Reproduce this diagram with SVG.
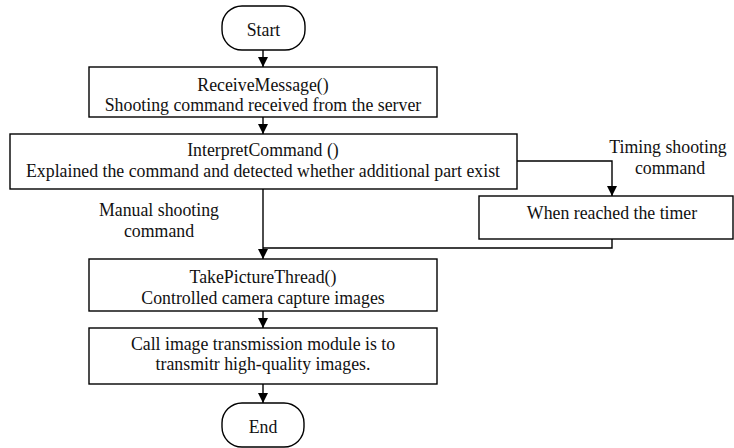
<svg xmlns="http://www.w3.org/2000/svg" width="734" height="448" viewBox="0 0 734 448">
<defs>
<marker id="ah" viewBox="0 0 10 10" refX="10" refY="5" markerWidth="10" markerHeight="10" markerUnits="userSpaceOnUse" orient="auto">
<path d="M0,0 L10,5 L0,10 Z" fill="#000"/>
</marker>
<style>
.box{fill:#fff;stroke:#000;stroke-width:1.4}
.ln{fill:none;stroke:#000;stroke-width:1.4}
</style>
</defs>
<rect width="734" height="448" fill="#fff"/>
<g id="connectors">
<line class="ln" x1="263" y1="50" x2="263" y2="67" marker-end="url(#ah)"/>
<line class="ln" x1="263" y1="117" x2="263" y2="134" marker-end="url(#ah)"/>
<polyline class="ln" points="517,161 612,161 612,196" marker-end="url(#ah)"/>
<line class="ln" x1="263" y1="189" x2="263" y2="259" marker-end="url(#ah)"/>
<polyline class="ln" points="612,239 612,248 263,248"/>
<line class="ln" x1="263" y1="311" x2="263" y2="328" marker-end="url(#ah)"/>
<line class="ln" x1="263" y1="384" x2="263" y2="403" marker-end="url(#ah)"/>
</g>
<g font-family="Liberation Serif, Times New Roman, serif" font-size="17.8" fill="#111" text-anchor="middle">
<g id="start">
<rect class="box" x="222" y="6" width="83" height="44" rx="20" ry="20"/>
<text x="263.5" y="36">Start</text>
</g>
<g id="receive">
<rect class="box" x="89" y="67" width="348" height="50"/>
<text x="263" y="91">ReceiveMessage()</text>
<text x="263" y="111">Shooting command received from the server</text>
</g>
<g id="interpret">
<rect class="box" x="10" y="134" width="507" height="55"/>
<text x="263" y="156">InterpretCommand ()</text>
<text x="263" y="177">Explained the command and detected whether additional part exist</text>
</g>
<g id="timer">
<rect class="box" x="479" y="196" width="254" height="43"/>
<text x="612" y="219">When reached the timer</text>
</g>
<g id="label-timing">
<text x="668" y="153">Timing shooting</text>
<text x="670" y="174">command</text>
</g>
<g id="label-manual">
<text x="159" y="216">Manual shooting</text>
<text x="159" y="237">command</text>
</g>
<g id="takepicture">
<rect class="box" x="89" y="259" width="348" height="52"/>
<text x="263" y="283">TakePictureThread()</text>
<text x="263" y="304">Controlled camera capture images</text>
</g>
<g id="transmit">
<rect class="box" x="89" y="328" width="348" height="56"/>
<text x="263" y="350">Call image transmission module is to</text>
<text x="263" y="370">transmitr high-quality images.</text>
</g>
<g id="end">
<rect class="box" x="222" y="403" width="82" height="44" rx="20" ry="20"/>
<text x="263" y="433">End</text>
</g>
</g>
</svg>
